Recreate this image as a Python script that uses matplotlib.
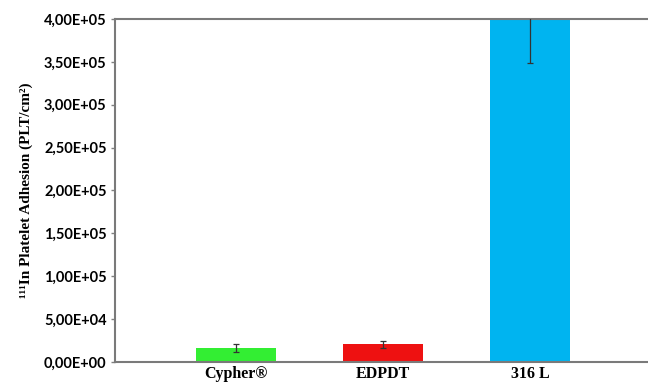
import matplotlib
matplotlib.use("Agg")
import matplotlib.pyplot as plt
from matplotlib.ticker import FuncFormatter

categories = ["Cypher®", "EDPDT", "316 L"]
adhesion = [16500, 20500, 400000]
adhesion_err = [4500, 4000, 51000]
bar_colors = ["#33ee33", "#ee1111", "#00b4f0"]
y_ticks = [0, 50000, 100000, 150000, 200000, 250000, 300000, 350000, 400000]

fig = plt.figure(figsize=(6.48, 3.85), dpi=100)
ax = fig.add_axes([115 / 648, 1 - 362 / 385, 1 - 115 / 648, (362 - 19) / 385])

x = list(range(len(categories)))
ax.bar(x, adhesion, width=0.545, color=bar_colors, zorder=2)
ax.errorbar(x, adhesion, yerr=adhesion_err, fmt="none", ecolor="#333333",
            elinewidth=0.9, capsize=2, capthick=0.9, zorder=3)

ax.set_ylim(0, 400000)
ax.set_xlim(-0.823, 2.8)
ax.set_yticks(y_ticks)


def sci_comma(v, _pos):
    s = f"{v:.2E}"
    return s.replace(".", ",")


ax.yaxis.set_major_formatter(FuncFormatter(sci_comma))
ax.set_xticks(x)
ax.set_xticklabels(categories, family="Liberation Serif", fontweight="bold",
                   fontsize=11.5)
for lbl in ax.get_yticklabels():
    lbl.set_family("Lato")
    lbl.set_fontweight("bold")
    lbl.set_fontsize(10.5)

ax.tick_params(axis="x", length=0, pad=3)
ax.tick_params(axis="y", length=3, width=1, color="#808080", pad=3)

for side in ["left", "top", "bottom"]:
    ax.spines[side].set_color("#7a7a7a")
    ax.spines[side].set_linewidth(1.5)
ax.spines["right"].set_visible(False)

ax.set_ylabel("¹¹¹In Platelet Adhesion (PLT/cm²)",
              family=["Liberation Serif", "DejaVu Serif"], fontweight="bold",
              fontsize=11, labelpad=8)

fig.savefig("out.png", dpi=100)
